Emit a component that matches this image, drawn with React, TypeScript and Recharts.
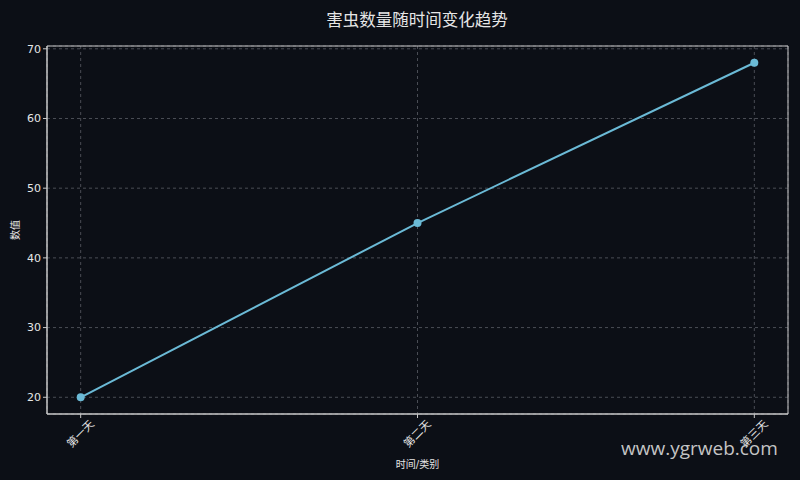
import React from 'react';
import {
    LineChart, Line, XAxis, YAxis, CartesianGrid, ReferenceArea, Label
} from 'recharts';

const days = ['第一天', '第二天', '第三天'];
const pestCounts = [20, 45, 68];
const yTicks = [20, 30, 40, 50, 60, 70];

const data = days.map((day, i) => ({ idx: i, day, value: pestCounts[i] }));

const FONT = '"DejaVu Sans", "Noto Sans CJK SC", sans-serif';
const BG = '#0c0f16';
const AXIS = '#c8c8c8';
const TEXT = '#e6e6e6';
const LINE = '#6bbad6';

// matplotlib-style margins (5% each side)
const X_DOMAIN: [number, number] = [-0.1, 2.1];
const Y_DOMAIN: [number, number] = [17.6, 70.4];

const RotatedTick = (props: any) => {
    const { x, y, payload } = props;
    const cx = x;
    const cy = y + 14;
    return (
        <text
            x={cx}
            y={cy}
            textAnchor="middle"
            dominantBaseline="central"
            fill={TEXT}
            fontSize={11}
            fontFamily={FONT}
            transform={`rotate(-45, ${cx}, ${cy})`}
        >
            {days[payload.value]}
        </text>
    );
};

const App: React.FC = () => {
    return (
        <div style={{ position: 'fixed', left: 0, top: 0, width: 800, height: 480, background: BG }}>
            <div
                style={{
                    position: 'absolute', top: 7, left: 317, width: 200, textAlign: 'center',
                    color: TEXT, fontFamily: FONT, fontSize: 16.5, whiteSpace: 'nowrap'
                }}
            >
                害虫数量随时间变化趋势
            </div>
            <LineChart
                width={800}
                height={480}
                data={data}
                margin={{ top: 46, right: 12, bottom: 0, left: 0 }}
            >
                <CartesianGrid stroke="#4a4d55" strokeDasharray="3 3" />
                <ReferenceArea
                    x1={X_DOMAIN[0]} x2={X_DOMAIN[1]} y1={Y_DOMAIN[0]} y2={Y_DOMAIN[1]}
                    fill="none" stroke={AXIS} strokeWidth={1} ifOverflow="visible"
                />
                <XAxis
                    dataKey="idx"
                    type="number"
                    domain={X_DOMAIN}
                    ticks={[0, 1, 2]}
                    height={66}
                    stroke={AXIS}
                    tickSize={4}
                    tick={<RotatedTick />}
                    allowDataOverflow
                >
                    <Label
                        value="时间/类别"
                        position="insideBottom"
                        offset={12}
                        fill={TEXT}
                        fontSize={10}
                        fontFamily={FONT}
                    />
                </XAxis>
                <YAxis
                    type="number"
                    domain={Y_DOMAIN}
                    ticks={yTicks}
                    width={47}
                    stroke={AXIS}
                    tickSize={4}
                    tick={{ fill: TEXT, fontSize: 11, fontFamily: FONT }}
                    allowDataOverflow
                >
                    <Label
                        value="数值"
                        angle={-90}
                        position="insideLeft"
                        offset={15}
                        fill={TEXT}
                        fontSize={10}
                        fontFamily={FONT}
                        style={{ textAnchor: 'middle' }}
                    />
                </YAxis>
                <Line
                    type="linear"
                    dataKey="value"
                    stroke={LINE}
                    strokeWidth={2}
                    dot={{ r: 4, fill: LINE, stroke: LINE, strokeWidth: 0 }}
                    isAnimationActive={false}
                />
            </LineChart>
            <div
                style={{
                    position: 'absolute', left: 621, top: 435, color: '#d8d8d8',
                    fontFamily: '"Open Sans", sans-serif', fontSize: 19, opacity: 0.9
                }}
            >
                www.ygrweb.com
            </div>
        </div>
    );
};

export default App;
